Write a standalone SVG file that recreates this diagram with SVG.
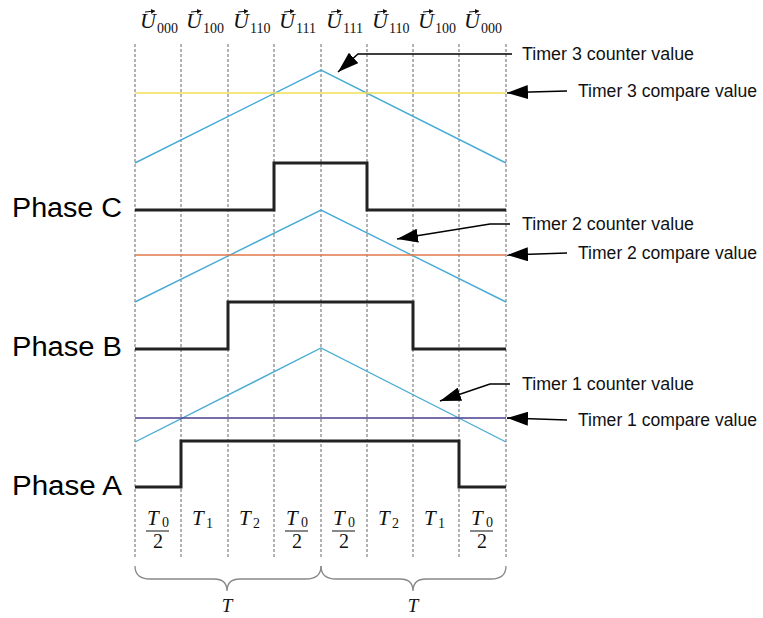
<svg xmlns="http://www.w3.org/2000/svg" width="763" height="618" viewBox="0 0 763 618">
<style>
.grid{stroke:#666;stroke-width:1;stroke-dasharray:3,2;fill:none}
.tri{stroke:#4aabd6;stroke-width:1.4;fill:none}
.phase{stroke:#222;stroke-width:3;fill:none;stroke-linejoin:miter}
.arr{stroke:#000;stroke-width:1.5;fill:none;marker-end:url(#ah)}
.lbl{font-family:"Liberation Sans",Arial,sans-serif;font-size:17.5px;fill:#111}
.ph{font-family:"Liberation Sans",Arial,sans-serif;font-size:27px;fill:#000}
.m{font-family:"Liberation Serif","Times New Roman",serif;font-style:italic;font-size:21px;fill:#111}
.mu{font-family:"Liberation Serif","Times New Roman",serif;font-style:italic;font-size:22px;fill:#111}
.sub{font-family:"Liberation Serif","Times New Roman",serif;font-size:14px;fill:#111}
.num{font-family:"Liberation Serif","Times New Roman",serif;font-size:20px;fill:#111;text-anchor:middle}
.vec{stroke:#111;stroke-width:1;fill:none;marker-end:url(#vh)}
.brace{stroke:#888;stroke-width:1.3;fill:none}
</style>
<defs>
<marker id="ah" markerUnits="userSpaceOnUse" markerWidth="23" markerHeight="14" refX="21" refY="7" orient="auto"><path d="M0,0 L21,7 L0,14 z" fill="#000"/></marker>
<marker id="vh" markerUnits="userSpaceOnUse" markerWidth="5" markerHeight="5" refX="4" refY="2.5" orient="auto"><path d="M0,0 L4,2.5 L0,5 z" fill="#111"/></marker>
</defs>
<rect width="763" height="618" fill="#fff"/>
<g id="grid">
<line class="grid" x1="135" y1="44" x2="135" y2="557"/>
<line class="grid" x1="181" y1="44" x2="181" y2="557"/>
<line class="grid" x1="228" y1="44" x2="228" y2="557"/>
<line class="grid" x1="274" y1="44" x2="274" y2="557"/>
<line class="grid" x1="321" y1="44" x2="321" y2="557"/>
<line class="grid" x1="367" y1="44" x2="367" y2="557"/>
<line class="grid" x1="413" y1="44" x2="413" y2="557"/>
<line class="grid" x1="459" y1="44" x2="459" y2="557"/>
<line class="grid" x1="506" y1="44" x2="506" y2="557"/>
</g>
<g id="vectors">
<g transform="translate(158,0)"><text class="mu" x="-18" y="28">U</text><text class="sub" x="-1" y="33">000</text><line class="vec" x1="-13" y1="12" x2="-3" y2="11"/></g>
<g transform="translate(204,0)"><text class="mu" x="-18" y="28">U</text><text class="sub" x="-1" y="33">100</text><line class="vec" x1="-13" y1="12" x2="-3" y2="11"/></g>
<g transform="translate(251,0)"><text class="mu" x="-18" y="28">U</text><text class="sub" x="-1" y="33">110</text><line class="vec" x1="-13" y1="12" x2="-3" y2="11"/></g>
<g transform="translate(297,0)"><text class="mu" x="-18" y="28">U</text><text class="sub" x="-1" y="33">111</text><line class="vec" x1="-13" y1="12" x2="-3" y2="11"/></g>
<g transform="translate(344,0)"><text class="mu" x="-18" y="28">U</text><text class="sub" x="-1" y="33">111</text><line class="vec" x1="-13" y1="12" x2="-3" y2="11"/></g>
<g transform="translate(390,0)"><text class="mu" x="-18" y="28">U</text><text class="sub" x="-1" y="33">110</text><line class="vec" x1="-13" y1="12" x2="-3" y2="11"/></g>
<g transform="translate(436,0)"><text class="mu" x="-18" y="28">U</text><text class="sub" x="-1" y="33">100</text><line class="vec" x1="-13" y1="12" x2="-3" y2="11"/></g>
<g transform="translate(482,0)"><text class="mu" x="-18" y="28">U</text><text class="sub" x="-1" y="33">000</text><line class="vec" x1="-13" y1="12" x2="-3" y2="11"/></g>
</g>
<g id="timer3">
<polyline class="tri" points="135,163 321,70 506,163"/>
<line x1="135" y1="93" x2="506" y2="93" stroke="#f0df55" stroke-width="1.5"/>
</g>
<g id="timer2">
<polyline class="tri" points="135,302 321,210 506,302"/>
<line x1="135" y1="255" x2="506" y2="255" stroke="#e0784a" stroke-width="1.3"/>
</g>
<g id="timer1">
<polyline class="tri" points="135,442 321,348 506,442"/>
<line x1="135" y1="418" x2="506" y2="418" stroke="#4a3c8c" stroke-width="1.3"/>
</g>
<g id="phaseC">
<text class="ph" x="12" y="217" textLength="110" lengthAdjust="spacingAndGlyphs">Phase C</text>
<polyline class="phase" points="135,210 274,210 274,163 367,163 367,210 506,210"/>
</g>
<g id="phaseB">
<text class="ph" x="12" y="356" textLength="110" lengthAdjust="spacingAndGlyphs">Phase B</text>
<polyline class="phase" points="135,349 228,349 228,302 413,302 413,349 506,349"/>
</g>
<g id="phaseA">
<text class="ph" x="12" y="495" textLength="110" lengthAdjust="spacingAndGlyphs">Phase A</text>
<polyline class="phase" points="135,487 181,487 181,441 459,441 459,487 506,487"/>
</g>
<g id="labels">
<text class="lbl" x="522" y="60" textLength="172" lengthAdjust="spacingAndGlyphs">Timer 3 counter value</text>
<text class="lbl" x="578" y="97" textLength="179" lengthAdjust="spacingAndGlyphs">Timer 3 compare value</text>
<text class="lbl" x="522" y="230" textLength="172" lengthAdjust="spacingAndGlyphs">Timer 2 counter value</text>
<text class="lbl" x="578" y="259" textLength="179" lengthAdjust="spacingAndGlyphs">Timer 2 compare value</text>
<text class="lbl" x="522" y="390" textLength="172" lengthAdjust="spacingAndGlyphs">Timer 1 counter value</text>
<text class="lbl" x="578" y="426" textLength="179" lengthAdjust="spacingAndGlyphs">Timer 1 compare value</text>
</g>
<g id="connectors">
<polyline class="arr" points="512,54 358,54 338,72"/>
<polyline class="arr" points="567,91 530,92 507,93"/>
<polyline class="arr" points="510,224 490,224 397,239"/>
<polyline class="arr" points="567,253 507,255"/>
<polyline class="arr" points="510,384 490,384 440,401"/>
<polyline class="arr" points="567,420 507,418"/>
</g>
<g id="times">
<g transform="translate(158,0)"><text class="m" x="-11" y="525">T</text><text class="sub" x="4" y="527">0</text><line x1="-12" y1="531" x2="11" y2="531" stroke="#111" stroke-width="1"/><text class="num" x="0" y="548">2</text></g>
<g transform="translate(204,0)"><text class="m" x="-12" y="525">T</text><text class="sub" x="2" y="528">1</text></g>
<g transform="translate(251,0)"><text class="m" x="-12" y="525">T</text><text class="sub" x="2" y="528">2</text></g>
<g transform="translate(297,0)"><text class="m" x="-11" y="525">T</text><text class="sub" x="4" y="527">0</text><line x1="-12" y1="531" x2="11" y2="531" stroke="#111" stroke-width="1"/><text class="num" x="0" y="548">2</text></g>
<g transform="translate(344,0)"><text class="m" x="-11" y="525">T</text><text class="sub" x="4" y="527">0</text><line x1="-12" y1="531" x2="11" y2="531" stroke="#111" stroke-width="1"/><text class="num" x="0" y="548">2</text></g>
<g transform="translate(390,0)"><text class="m" x="-12" y="525">T</text><text class="sub" x="2" y="528">2</text></g>
<g transform="translate(436,0)"><text class="m" x="-12" y="525">T</text><text class="sub" x="2" y="528">1</text></g>
<g transform="translate(482,0)"><text class="m" x="-11" y="525">T</text><text class="sub" x="4" y="527">0</text><line x1="-12" y1="531" x2="11" y2="531" stroke="#111" stroke-width="1"/><text class="num" x="0" y="548">2</text></g>
</g>
<g id="braces">
<path class="brace" d="M135,566 Q135,579 150,579 L214,579 Q227,579 227,591 Q227,579 240,579 L306,579 Q321,579 321,566"/>
<path class="brace" d="M321,566 Q321,579 336,579 L400,579 Q413,579 413,591 Q413,579 426,579 L491,579 Q506,579 506,566"/>
<text class="m" x="227" y="612" text-anchor="middle" style="font-size:19px">T</text>
<text class="m" x="413" y="612" text-anchor="middle" style="font-size:19px">T</text>
</g>
</svg>
